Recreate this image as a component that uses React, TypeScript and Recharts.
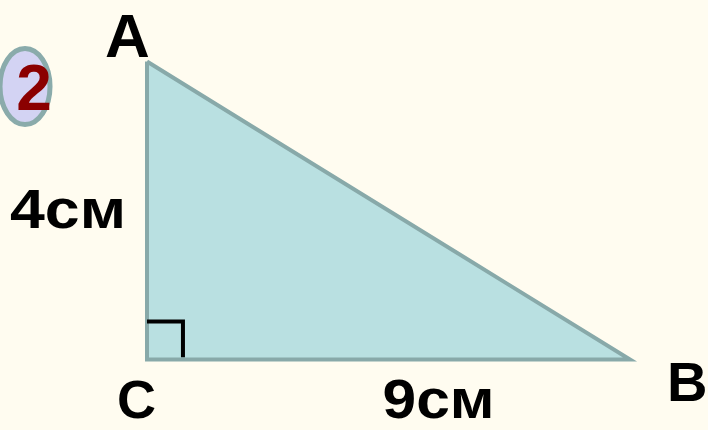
import React from 'react';
import {
  ComposedChart,
  Area,
  Line,
  Scatter,
  XAxis,
  YAxis,
  ReferenceDot,
} from 'recharts';

// triangle vertices, in cm
const vertices = [
  { name: 'A', x: 0, y: 4 },
  { name: 'C', x: 0, y: 0 },
  { name: 'B', x: 9, y: 0 },
];
const hypotenuse = [vertices[0], vertices[2]];
const outline = [vertices[0], vertices[1], vertices[2], vertices[0]];
const rightAngle = [
  { x: 0, y: 0.51 },
  { x: 0.67, y: 0.51 },
  { x: 0.67, y: 0.03 },
];
const legs = [
  { name: '4см', x: 0, y: 2 },
  { name: '9см', x: 4.5, y: 0 },
];
const problemNumber = '2';

const FONT = '"Liberation Sans", Arial, sans-serif';

// pixel offsets of each label from its anchor point
const labelOffset: Record<string, { dx: number; dy: number; size: number; w?: number }> = {
  A: { dx: -42, dy: -5, size: 62 },
  C: { dx: -30, dy: 58, size: 54 },
  B: { dx: 37, dy: 41, size: 56 },
  '4см': { dx: -137, dy: 17, size: 56, w: 116 },
  '9см': { dx: -6, dy: 58, size: 56, w: 112 },
};

const LabelShape = (props: any) => {
  const { cx, cy, payload } = props;
  const o = labelOffset[payload.name];
  return (
    <text
      x={cx + o.dx}
      y={cy + o.dy}
      fontFamily={FONT}
      fontWeight="bold"
      fontSize={o.size}
      fill="#000"
      textLength={o.w}
      lengthAdjust={o.w ? 'spacingAndGlyphs' : undefined}
    >
      {payload.name}
    </text>
  );
};

const Badge = (props: any) => {
  const { cx, cy } = props;
  return (
    <g>
      <ellipse cx={cx} cy={cy} rx={25} ry={38} fill="#d3d3f3" stroke="#8aabab" strokeWidth={5} />
      <text
        x={cx + 9}
        y={cy + 23}
        textAnchor="middle"
        fontFamily={FONT}
        fontWeight="bold"
        fontSize={64}
        fill="#8b0000"
      >
        {problemNumber}
      </text>
    </g>
  );
};

export default function App() {
  return (
    <div style={{ position: 'absolute', left: 0, top: 0, width: 708, height: 430, background: '#fffcf0' }}>
      <ComposedChart width={708} height={430} data={hypotenuse} margin={{ top: 0, right: 0, bottom: 0, left: 0 }}>
        <XAxis type="number" dataKey="x" domain={[-2.739, 10.453]} hide allowDataOverflow />
        <YAxis type="number" dataKey="y" domain={[-0.946, 4.826]} hide allowDataOverflow />
        <Area
          type="linear"
          dataKey="y"
          baseValue={0}
          fill="#b9e0e1"
          fillOpacity={1}
          stroke="none"
          dot={false}
          activeDot={false}
          isAnimationActive={false}
        />
        <Line
          data={outline}
          type="linear"
          dataKey="y"
          stroke="#88a9a9"
          strokeWidth={4}
          strokeLinejoin="miter"
          dot={false}
          activeDot={false}
          isAnimationActive={false}
        />
        <Line
          data={rightAngle}
          type="linear"
          dataKey="y"
          stroke="#000"
          strokeWidth={4}
          strokeLinejoin="miter"
          dot={false}
          activeDot={false}
          isAnimationActive={false}
        />
        <Scatter data={vertices} dataKey="y" shape={LabelShape} isAnimationActive={false} />
        <Scatter data={legs} dataKey="y" shape={LabelShape} isAnimationActive={false} />
        <ReferenceDot x={-2.273} y={3.664} r={0} shape={Badge} ifOverflow="visible" />
      </ComposedChart>
    </div>
  );
}
